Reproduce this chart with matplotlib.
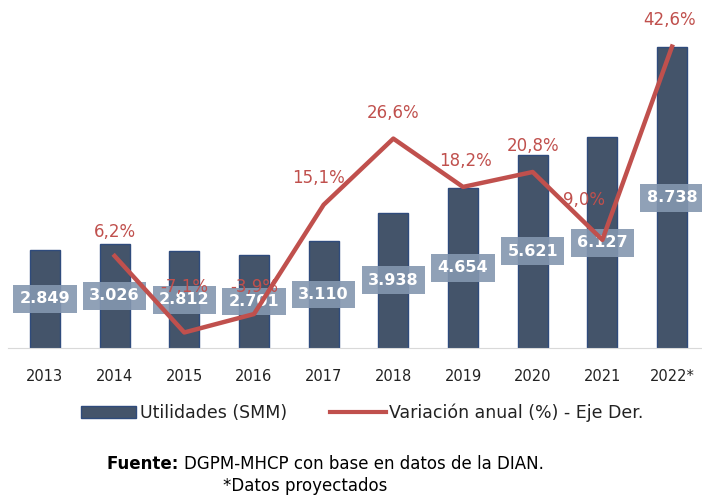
import matplotlib.pyplot as plt
from matplotlib.lines import Line2D
from matplotlib.patches import Patch

# Data
years = ["2013", "2014", "2015", "2016", "2017", "2018", "2019", "2020", "2021", "2022*"]
utilidades = [2849, 3026, 2812, 2701, 3110, 3938, 4654, 5621, 6127, 8738]
utilidades_lbl = ["2.849", "3.026", "2.812", "2.701", "3.110", "3.938", "4.654", "5.621", "6.127", "8.738"]
variacion = [None, 6.2, -7.1, -3.9, 15.1, 26.6, 18.2, 20.8, 9.0, 42.6]
variacion_lbl = ["", "6,2%", "-7,1%", "-3,9%", "15,1%", "26,6%", "18,2%", "20,8%", "9,0%", "42,6%"]
# label offsets (pixels) for the percentage labels
pct_off = [(0, 0), (0, 24), (0, 45), (0, 27), (-5, 27), (0, 26), (2, 26), (0, 26), (-18, 40), (-2, 27)]

bar_color = "#44546a"
line_color = "#c0504d"

fig = plt.figure(figsize=(7.02, 4.98), dpi=100)
ax = fig.add_axes([8 / 702, 150 / 498, 694 / 702, 344 / 498])
x = list(range(len(years)))

ax.bar(x, utilidades, width=0.43, color=bar_color, edgecolor="#2f4b7c", linewidth=1, zorder=2)
for xi, v, lbl in zip(x, utilidades, utilidades_lbl):
    ax.text(xi, v / 2, lbl, ha="center", va="center", color="white", fontsize=11.5,
            fontweight="bold", zorder=3,
            bbox=dict(boxstyle="square,pad=0.4", facecolor="#8497b0", edgecolor="none", alpha=0.9))

ax.set_xlim(-0.53, 9.43)
ax.set_ylim(0, 10000)
ax.set_xticks(x)
ax.set_xticklabels(years, fontsize=10.5, color="#222222")
ax.tick_params(axis="x", length=0, pad=15)
ax.set_yticks([])
for s in ["top", "left", "right"]:
    ax.spines[s].set_visible(False)
ax.spines["bottom"].set_color("#d9d9d9")

ax2 = ax.twinx()
xs = [xi for xi, v in zip(x, variacion) if v is not None]
vs = [v for v in variacion if v is not None]
ax2.plot(xs, vs, color=line_color, linewidth=3.2, solid_joinstyle="round")
for xi, v, lbl, off in zip(x, variacion, variacion_lbl, pct_off):
    if v is None:
        continue
    ax2.annotate(lbl, (xi, v), xytext=off, textcoords="offset pixels", ha="center", va="center",
                 color=line_color, fontsize=12)
ax2.set_ylim(-9.8, 50)
ax2.set_yticks([])
for s in ["top", "left", "right", "bottom"]:
    ax2.spines[s].set_visible(False)

handles = [Patch(facecolor=bar_color, edgecolor="#2f4b7c"),
           Line2D([0], [0], color=line_color, linewidth=3)]
fig.legend(handles, ["Utilidades (SMM)", "Variación anual (%) - Eje Der."],
           loc="center", bbox_to_anchor=(362 / 702, 1 - 413 / 498), ncol=2, frameon=False,
           fontsize=12.5, handlelength=3.2, handletextpad=0.2, columnspacing=2.5,
           labelcolor="#222222")

# source note: bold "Fuente:" followed by regular text
y1 = 1 - 464 / 498
t1 = fig.text(107 / 702, y1, "Fuente: ", fontsize=12, fontweight="bold", va="center")
fig.canvas.draw()
bb = t1.get_window_extent()
fig.text(bb.x1 / 702, y1, "DGPM-MHCP con base en datos de la DIAN.", fontsize=12, va="center")
fig.text(223 / 702, 1 - 486 / 498, "*Datos proyectados", fontsize=12, va="center")

fig.savefig("out.png", dpi=100)
